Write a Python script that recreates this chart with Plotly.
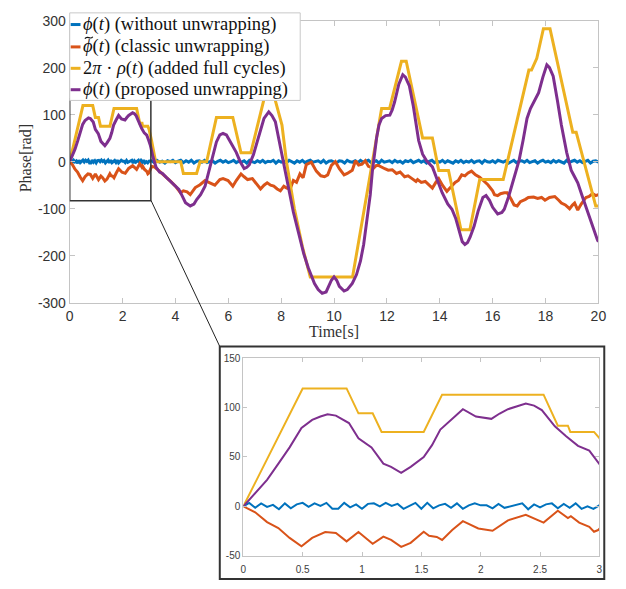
import numpy as np
import plotly.graph_objects as go

# ---------------- data ----------------
# phase without unwrapping (wrapped, stays near zero)
t_wrapped_fine = np.round(np.arange(0, 3.0001, 0.05), 2)
wrapped_fine = [
    0, 3.5, -1.5, 3, -0.5, 1.5, -3, 3, -2, 2,
    3.5, -0.5, 3, 0.5, 3.5, -2.5, -2.5, 3.5, -1, 2,
    -2.5, 2.5, 3, 0, 3.5, 0.5, 2.5, -2.5, 0.5, 3.5,
    -2.5, 3.5, -2, 1, 2.5, -1.5, 3, -2.5, 1, 3,
    1, 1, -2, 2.5, -1.5, 0, 1, 3, -3, 2,
    -1, 2, 3, -2, 2.5, -1.5, 3, -2.5, 0, -2.5, 1,
]
t_wrapped_coarse = np.round(np.arange(3.1, 20.0001, 0.1), 2)
wrapped_coarse = [
    2, -2, 3, -1, 1, -3, 2, 0, 3, -2,
    1, 3, -2, 2, -1, 3, -3, 1, 2, -1,
    3, -2, 0, 2, -3, 1, 3, -1, 2, -2,
    0, 3, -2, 1, -1, 2, -3, 3, 0, -2,
    2, -1, 3, -2, 1, 0, 3, -3, 2, -1,
    1, -2, 3, 0, -3, 2, -1, 3, -2, 1,
    3, -1, 0, 2, -2, 3, -3, 1, 2, -1,
    -2, 2, 1, -3, 3, 0, -1, 2, -2, 3,
    -1, 1, 3, -2, 0, 2, -3, 3, -1, 1,
    2, -2, 3, -1, 1, -3, 2, 0, 3, -2,
    0, 3, -1, 2, -3, 1, 3, -2, 1, -1,
    3, -2, 2, 0, -3, 2, -1, 3, -2, 1,
    -1, 3, -2, 1, 2, -3, 3, 0, -1, 2,
    -2, 3, 1, -1, 2, -3, 0, 3, -2, 1,
    2, -1, 3, -2, 0, 2, -3, 1, 3, -1,
    1, -2, 3, -1, 2, 0, -3, 3, -2, 1,
    3, -1, 2, -2, 0, 3, -3, 1, 2, -1,
]
t_wrapped = list(t_wrapped_fine) + list(t_wrapped_coarse)
phase_wrapped = wrapped_fine + wrapped_coarse

# classic unwrapping
t_classic = [
    0, 0.1, 0.2, 0.295, 0.39, 0.49, 0.58, 0.69, 0.78, 0.87, 0.97, 1.09, 1.18, 1.245,
    1.33, 1.41, 1.52, 1.565, 1.63, 1.675, 1.76, 1.85, 1.98, 2.1, 2.23, 2.38, 2.53,
    2.65, 2.735, 2.76, 2.83, 2.915, 2.955, 2.99,
    3.1, 3.2, 3.35, 3.5, 3.65, 3.82, 4.0, 4.19, 4.3, 4.44, 4.56, 4.75, 4.93, 5.12,
    5.3, 5.49, 5.68, 5.8, 5.99, 6.17, 6.3, 6.48, 6.6, 6.73, 6.91, 7.05, 7.22, 7.35,
    7.47, 7.6, 7.72, 7.85, 7.97, 8.1, 8.21, 8.34, 8.46, 8.58, 8.71, 8.83, 8.95, 9.14,
    9.33, 9.5, 9.64, 9.76, 9.9, 10.05, 10.2, 10.38, 10.5, 10.69, 10.81, 10.93, 11.06,
    11.18, 11.3, 11.49, 11.6, 11.68, 11.8, 11.92, 12.05, 12.2, 12.36, 12.5, 12.67,
    12.8, 12.95, 13.1, 13.16, 13.3, 13.45, 13.6, 13.72, 13.85, 13.96, 14.1, 14.27,
    14.4, 14.58, 14.7, 14.83, 14.95, 15.07, 15.2, 15.35, 15.51, 15.65, 15.82, 16.0,
    16.07, 16.19, 16.3, 16.44, 16.55, 16.7, 16.81, 16.93, 17.05, 17.24, 17.35, 17.55,
    17.7, 17.85, 17.98, 18.15, 18.35, 18.5, 18.6, 18.75, 18.91, 19.02, 19.1, 19.22,
    19.35, 19.53, 19.65, 19.78, 19.9, 20.0,
]
phase_classic = [
    0, -6, -16, -22, -32, -40.5, -32, -26, -27, -35.5, -26, -38, -30.6, -34,
    -41, -37, -25.7, -29.8, -31, -34, -24, -15, -22.4, -24.7, -14.2, -8.6, -16.5,
    -4.4, -11.9, -9.9, -16.5, -20.8, -25.7, -24,
    -10, -11, -18, -25, -33, -42, -52, -66, -62, -64, -70, -55, -49, -40,
    -45, -50, -38, -36, -40, -52, -40, -26, -32, -38, -36, -45, -58, -50,
    -45, -50, -52, -58, -62, -52, -56, -58, -40, -44, -26, -34, -6, -1,
    -20, -30, -32, -28, -8, 0, -15, -28, -25, -18, 2, -7, -5,
    2, -10, -14, -8, -8, -12, -15, -18, -17, -25, -22, -32,
    -30, -36, -42, -38, -44, -42, -50, -56, -44, -36, -50, -63,
    -55, -44, -40, -28, -30, -24, -20, -28, -33, -40, -49, -62,
    -70, -72, -68, -66, -66, -80, -92, -94, -85, -80, -76, -75,
    -78, -76, -82, -76, -74, -82, -88, -92, -100, -92, -88, -103,
    -90, -76, -74, -68, -72, -70,
]

# added full cycles, 2*pi*rho(t)
t_cycles = [
    0, 0.5, 0.87, 0.97, 1.09, 1.165, 1.52, 1.675, 2.53, 2.65, 2.735, 2.755, 2.955,
    3.0, 3.1, 3.25, 4.2, 4.3, 4.8, 4.93, 5.18, 5.55, 6.17, 6.48, 6.85, 7.4, 7.7,
    7.78, 8.03, 8.2, 8.5, 8.8, 9.1, 10.7, 11.8, 12.1, 12.55, 12.73, 13.35, 13.72,
    13.96, 14.33, 14.8, 15.14, 15.51, 16.4, 17.37, 17.47, 17.67, 17.92, 18.17,
    19.03, 19.16, 19.65, 19.9, 20.0,
]
phase_cycles = [
    0, 119.4, 119.4, 94.2, 94.2, 75.4, 75.4, 113.1, 113.1, 81.7, 81.7, 75.4, 75.4,
    69.1, 44.0, 0, 0, -25.1, -25.1, 0, 0, 94.2, 94.2, 18.8, 18.8, 144.5, 144.5,
    130.0, 78.0, 0, -100.0, -180.0, -245.0, -245.0, 113.1, 113.1, 213.6, 213.6, 50.3, 50.3,
    -18.8, -18.8, -144.5, -144.5, -37.7, -37.7, 194.8, 194.8, 220.0, 282.7, 282.7,
    62.8, 62.8, -44.0, -94.2, -94.2,
]

# proposed unwrapping
t_proposed = [
    0, 0.1, 0.2, 0.3, 0.39, 0.49, 0.58, 0.65, 0.71, 0.78, 0.89, 0.97, 1.08, 1.18,
    1.245, 1.33, 1.41, 1.52, 1.59, 1.66, 1.76, 1.85, 1.96, 2.09, 2.16, 2.23, 2.38,
    2.45, 2.515, 2.625, 2.72, 2.82, 2.915, 2.98, 3.05, 3.15, 3.27, 3.4, 3.51, 3.65,
    3.82, 4.0, 4.13, 4.25, 4.38, 4.56, 4.7, 4.81, 4.95, 5.12, 5.25, 5.43, 5.55,
    5.68, 5.8, 5.93, 6.1, 6.3, 6.45, 6.6, 6.7, 6.79, 6.95, 7.1, 7.25, 7.35, 7.53,
    7.65, 7.78, 7.9, 8.03, 8.15, 8.27, 8.46, 8.71, 8.85, 9.02, 9.15, 9.26, 9.4,
    9.55, 9.7, 9.8, 9.9, 10.0, 10.1, 10.2, 10.38, 10.5, 10.69, 10.85, 11.0, 11.12,
    11.2, 11.3, 11.37, 11.45, 11.55, 11.61, 11.7, 11.8, 11.95, 12.11, 12.2, 12.29,
    12.45, 12.6, 12.7, 12.85, 13.0, 13.1, 13.2, 13.35, 13.5, 13.72, 13.9, 14.09,
    14.3, 14.46, 14.6, 14.71, 14.85, 14.95, 15.05, 15.15, 15.3, 15.45, 15.63, 15.75,
    15.88, 16.0, 16.19, 16.35, 16.44, 16.6, 16.75, 16.9, 17.0, 17.15, 17.3, 17.43,
    17.55, 17.74, 17.9, 18.05, 18.15, 18.29, 18.45, 18.6, 18.8, 18.97, 19.1, 19.22,
    19.4, 19.59, 19.8, 19.96, 20.0,
]
phase_proposed = [
    0, 13, 26.8, 44, 59.7, 79.4, 87.6, 91, 93.2, 91.9, 84.3, 68.9, 59.7, 43.3,
    40, 34, 40, 49.8, 62, 77.8, 89.2, 98.4, 90.9, 88.6, 94, 98.4, 104,
    102, 97.5, 81, 71, 61.3, 56.4, 46.6, 35, 10, -12, -22, -25, -33,
    -42, -52, -59, -72, -87, -94, -90, -80, -70, -52, -25, 16, 42,
    57, 60, 57, 40, 20, 0, -14.5, -12, -7, 15, 44, 75, 92, 106,
    98, 85, 50, 16, -20, -52, -107, -163, -195, -225, -245, -259, -272,
    -280, -277, -265, -252, -245, -252, -265, -275, -272, -259, -240, -211, -176,
    -145, -107, -70, -20, 30, 51, 78, 92, 98, 99, 110, 127,
    165, 185, 180, 161, 118, 78, 45, 16, 2, -11, -40, -66,
    -90, -101, -120, -142, -170, -176, -172, -160, -137, -105, -76, -72,
    -82, -97, -111, -108, -101, -75, -45, -12, 3, 45, 92, 113,
    125, 147, 180, 206, 200, 182, 130, 78, 20, -18, -32, -45,
    -75, -107, -140, -166, -170,
]

series = [
    ("ϕ(t) (without unwrapping)", t_wrapped, phase_wrapped, "#0072BD"),
    ("ϕ̃(t) (classic unwrapping)", t_classic, phase_classic, "#D95319"),
    ("2π·ρ(t) (added full cycles)", t_cycles, phase_cycles, "#EDB120"),
    ("ϕ(t) (proposed unwrapping)", t_proposed, phase_proposed, "#7E2F8E"),
]
legend_labels = [
    "<i>ϕ</i>(<i>t</i>) (without unwrapping)",
    "<i>ϕ</i>(<i>t</i>) (classic unwrapping)",
    "2<i>π</i> · <i>ρ</i>(<i>t</i>) (added full cycles)",
    "<i>ϕ</i>(<i>t</i>) (proposed unwrapping)",
]

main_xticks = list(range(0, 21, 2))
main_yticks = [-300, -200, -100, 0, 100, 200, 300]
inset_xticks = [0, 0.5, 1, 1.5, 2, 2.5, 3]
inset_xticktext = ["0", "0.5", "1", "1.5", "2", "2.5", "3"]
inset_yticks = [-50, 0, 50, 100, 150]

# ---------------- figure ----------------
W, H = 626, 589


def fx(p):
    return p / W


def fy(p):
    return 1 - p / H


fig = go.Figure()
for name, t, v, c in series:
    fig.add_trace(go.Scatter(x=t, y=v, mode="lines", name=name,
                             line=dict(color=c, width=3), xaxis="x", yaxis="y",
                             showlegend=False))
for name, t, v, c in series:
    fig.add_trace(go.Scatter(x=t, y=v, mode="lines", name=name,
                             line=dict(color=c, width=2), xaxis="x2", yaxis="y2",
                             showlegend=False))

frame = "#c4c4c4"
tickfont_main = dict(family="Liberation Sans, Arial, sans-serif", size=14, color="#333333")
tickfont_inset = dict(family="Liberation Sans, Arial, sans-serif", size=10, color="#404040")
common = dict(showline=True, linecolor=frame, linewidth=1, mirror="ticks",
              ticks="inside", tickcolor=frame, showgrid=False, zeroline=False)

fig.update_layout(
    width=W, height=H, margin=dict(l=0, r=0, t=0, b=0),
    paper_bgcolor="white", plot_bgcolor="white", showlegend=False,
    xaxis=dict(domain=[fx(67), fx(606)], range=[0, 20], tickvals=main_xticks,
               ticktext=[str(v) for v in main_xticks], ticklen=5,
               tickfont=tickfont_main, anchor="y", **common),
    yaxis=dict(domain=[fy(303), fy(13)], range=[-300, 300], tickvals=main_yticks,
               ticktext=[str(v) for v in main_yticks], ticklen=5,
               tickfont=tickfont_main, anchor="x", **common),
    xaxis2=dict(domain=[fx(244), fx(607)], range=[0, 3], tickvals=inset_xticks,
                ticktext=inset_xticktext, ticklen=4, ticklabelstandoff=4,
                tickfont=tickfont_inset, anchor="y2", **common),
    yaxis2=dict(domain=[fy(563), fy(360)], range=[-50, 150], tickvals=inset_yticks,
                ticktext=[str(v) for v in inset_yticks], ticklen=4,
                tickfont=tickfont_inset, anchor="x2", **common),
)

shapes = [
    # zoomed region on the main axes
    dict(type="rect", xref="x", yref="y", x0=0, x1=3.07, y0=-83, y1=134,
         line=dict(color="#333333", width=1.5), layer="above"),
    # connector from the zoom box to the inset
    dict(type="line", xref="paper", yref="paper", x0=fx(150), y0=fy(198),
         x1=fx(220), y1=fy(348), line=dict(color="#222222", width=1)),
    # inset frame
    dict(type="rect", xref="paper", yref="paper", x0=fx(220), x1=fx(612),
         y0=fy(587), y1=fy(348), line=dict(color="#333333", width=2)),
    # legend box
    dict(type="rect", xref="paper", yref="paper", x0=fx(67), x1=fx(302),
         y0=fy(95), y1=fy(5), line=dict(color="#c8c8c8", width=1),
         fillcolor="white", layer="above"),
]
annotations = []
rows = [17, 40, 62, 84]
legend_font = dict(family="Liberation Serif, serif", size=18.5, color="#111111")
for (name, t, v, c), label, ry in zip(series, legend_labels, rows):
    shapes.append(dict(type="line", xref="paper", yref="paper", x0=fx(68), x1=fx(78),
                       y0=fy(ry), y1=fy(ry), line=dict(color=c, width=3), layer="above"))
    annotations.append(dict(xref="paper", yref="paper", x=fx(79), y=fy(ry),
                            xanchor="left", yanchor="middle", showarrow=False,
                            text=label, font=legend_font))

# tilde accent over the phi of the classic-unwrapping entry (drawn as a curve)
tx0, tx1, ty = 82.5, 90.5, 30.5
tilde_path = (f"M {fx(tx0)},{fy(ty + 1)} "
              f"C {fx(tx0 + 2.5)},{fy(ty - 3)} {fx(tx1 - 2.5)},{fy(ty + 3)} {fx(tx1)},{fy(ty - 1)}")
shapes.append(dict(type="path", xref="paper", yref="paper", path=tilde_path,
                   line=dict(color="#111111", width=1.2), layer="above"))

serif = dict(family="Liberation Serif, serif", size=16, color="#333333")
annotations.append(dict(xref="paper", yref="paper", x=fx(336), y=fy(333),
                        xanchor="center", yanchor="middle", showarrow=False,
                        text="Time[s]", font=serif))
annotations.append(dict(xref="paper", yref="paper", x=fx(22), y=fy(155),
                        xanchor="center", yanchor="middle", showarrow=False,
                        text="Phase[rad]", textangle=-90, font=serif))

fig.update_layout(shapes=shapes, annotations=annotations)
fig.write_html("out.html")
